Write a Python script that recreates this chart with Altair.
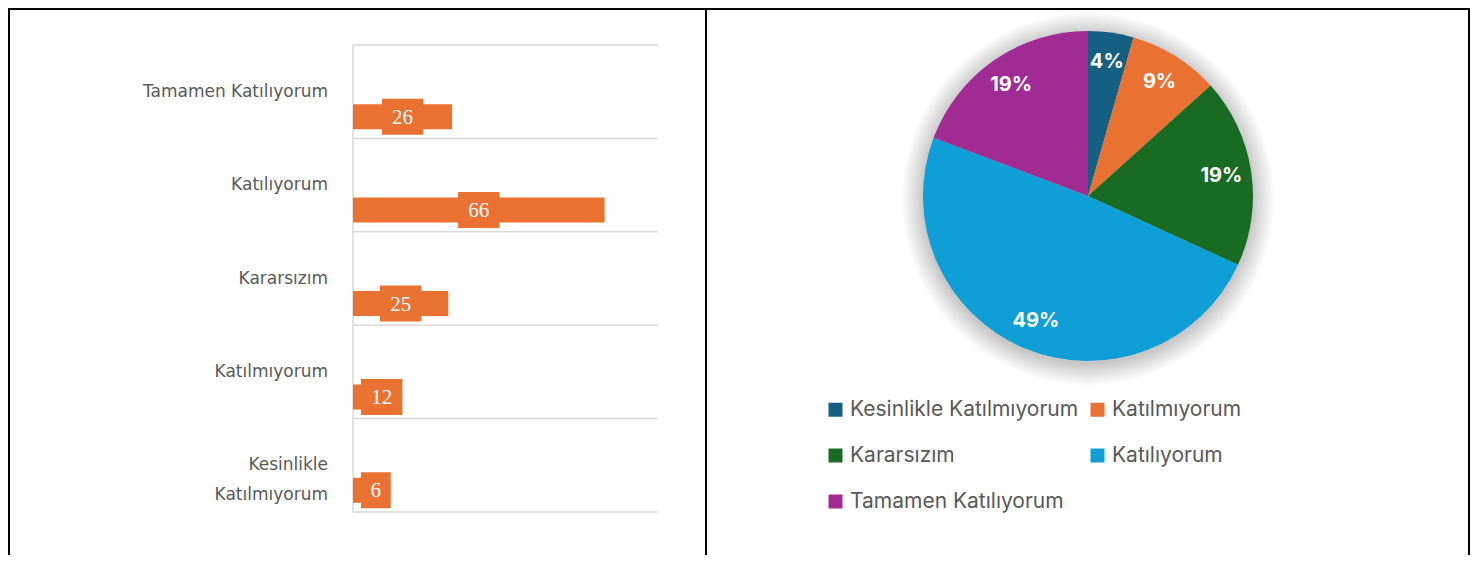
import altair as alt
import pandas as pd

# ---- data ----
categories = ["Kesinlikle Katılmıyorum", "Katılmıyorum", "Kararsızım", "Katılıyorum", "Tamamen Katılıyorum"]
counts = [6, 12, 25, 66, 26]
pie_colors = ["#156082", "#E97132", "#196B24", "#0F9ED5", "#A02B93"]
bar_color = "#E97132"

df = pd.DataFrame({"kategori": categories, "sayi": counts, "sira": list(range(len(categories)))})
N = len(categories)

# ---- layout (view = whole drawing, origin at page (8, 8)) ----
W, H = 1462, 547
X_MAX = 80
X_RANGE = [345, 650]          # bar plot area (px)
Y_RANGE = [37, 504]
BAND = (Y_RANGE[1] - Y_RANGE[0]) / N
PX = (X_RANGE[1] - X_RANGE[0]) / X_MAX
GRID = "#D9D9D9"
TXT = "#595959"

xs = alt.Scale(domain=[0, X_MAX], range=X_RANGE, nice=False, zero=False)
ys = alt.Scale(domain=[0, N], range=Y_RANGE, nice=False, zero=False)

base = alt.Chart(df).transform_calculate(
    r=f"{N - 1} - datum.sira",
    lbl="length(datum.kategori) > 20 ? replace(datum.kategori, ' ', '|') : datum.kategori",
).transform_calculate(
    yc="datum.r + 0.5",
    yb=f"datum.r + 0.5 + {25 / BAND}",
).transform_calculate(
    b1=f"datum.yb - {12.5 / BAND}",
    b2=f"datum.yb + {12.5 / BAND}",
    k1=f"datum.yb - {18 / BAND}",
    k2=f"datum.yb + {18 / BAND}",
    hw=f"((datum.sayi >= 10 ? 2 : 1) * 11.7 + 18) / 2 / {PX}",
).transform_calculate(
    lo0=f"datum.sayi / 2 - datum.hw",
).transform_calculate(
    lo=f"datum.lo0 > {8 / PX} ? datum.lo0 : {8 / PX}",
).transform_calculate(
    hi="datum.lo + 2 * datum.hw",
    mid="datum.lo + datum.hw",
)

# gridlines (band boundaries) and axis line
grid = base.mark_rule(color=GRID, strokeWidth=1.5).encode(
    x=alt.X(datum=0, scale=xs, axis=None), x2=alt.X2(datum=X_MAX),
    y=alt.Y("r:Q", scale=ys, axis=None),
)
grid_bottom = base.transform_filter("datum.sira == 0").mark_rule(color=GRID, strokeWidth=1.5).encode(
    x=alt.X(datum=0, scale=xs, axis=None), x2=alt.X2(datum=X_MAX),
    y=alt.Y(datum=N, scale=ys, axis=None),
)
axis_line = base.transform_filter("datum.sira == 0").mark_rule(color=GRID, strokeWidth=1.5).encode(
    x=alt.X(datum=0, scale=xs, axis=None),
    y=alt.Y(datum=0, scale=ys, axis=None), y2=alt.Y2(datum=N),
)

cat_labels = base.mark_text(
    align="right", baseline="middle", dx=-25, font="DejaVu Sans", fontSize=17,
    color=TXT, lineBreak="|", lineHeight=30,
).encode(
    x=alt.X(datum=0, scale=xs, axis=None),
    y=alt.Y("yc:Q", scale=ys, axis=None),
    text="lbl:N",
)

bars = base.mark_bar(color=bar_color).encode(
    x=alt.X("sayi:Q", scale=xs, axis=None), x2=alt.X2(datum=0),
    y=alt.Y("b1:Q", scale=ys, axis=None), y2="b2:Q",
)
boxes = base.mark_bar(color=bar_color).encode(
    x=alt.X("lo:Q", scale=xs, axis=None), x2="hi:Q",
    y=alt.Y("k1:Q", scale=ys, axis=None), y2="k2:Q",
)
values = base.mark_text(font="Liberation Serif", fontSize=21, color="white", baseline="middle", dy=1).encode(
    x=alt.X("mid:Q", scale=xs, axis=None),
    y=alt.Y("yb:Q", scale=ys, axis=None),
    text="sayi:Q",
)

# table borders
one = alt.Chart(df).transform_filter("datum.sira == 0")
bk = dict(color="black", strokeWidth=2)
b_top = one.mark_rule(**bk).encode(x=alt.value(0), x2=alt.value(W), y=alt.value(1))
b_left = one.mark_rule(**bk).encode(x=alt.value(1), y=alt.value(0), y2=alt.value(H))
b_mid = one.mark_rule(**bk).encode(x=alt.value(698), y=alt.value(0), y2=alt.value(H))
b_right = one.mark_rule(**bk).encode(x=alt.value(W - 1), y=alt.value(0), y2=alt.value(H))

# ---- pie ----
CX, CY = 1080, 188
pie_base = alt.Chart(df).transform_joinaggregate(total="sum(sayi)").transform_calculate(
    pct="round(datum.sayi / datum.total * 100) + '%'"
)
theta = alt.Theta("sayi:Q", stack=True)
order = alt.Order("sira:Q")
color = alt.Color(
    "kategori:N",
    sort=categories,
    scale=alt.Scale(domain=categories, range=pie_colors),
    legend=alt.Legend(
        orient="none", legendX=817, legendY=391, columns=2, direction="horizontal", title=None,
        symbolType="square", symbolSize=196, symbolStrokeWidth=0, symbolOpacity=1,
        labelFont="Inter", labelFontSize=21, labelColor=TXT, rowPadding=24,
        columnPadding=8, labelOffset=4, labelLimit=400, padding=0,
    ),
)

shadows = []
for rad in range(186, 165, -2):
    shadows.append(
        alt.Chart(df).transform_aggregate(total="sum(sayi)").mark_arc(
            radius=rad, color="black", opacity=0.018
        ).encode(theta=alt.Theta("total:Q"), x=alt.value(CX), y=alt.value(CY + 3))
    )

arcs = pie_base.mark_arc(radius=165).encode(
    theta=theta, color=color, order=order, x=alt.value(CX), y=alt.value(CY)
)
pct = pie_base.mark_text(radius=135, font="Inter", fontSize=20, fontWeight="bold", color="white").encode(
    theta=theta, order=order, text="pct:N", x=alt.value(CX), y=alt.value(CY)
)

chart = alt.layer(
    grid, grid_bottom, axis_line, cat_labels, bars, boxes, values,
    *shadows, arcs, pct,
    b_top, b_left, b_mid, b_right,
).properties(
    width=W, height=H, padding=0, autosize=alt.AutoSizeParams(type="none")
).configure_view(stroke=None)

chart.save("out.html", embed_options={"renderer": "svg", "actions": False})
